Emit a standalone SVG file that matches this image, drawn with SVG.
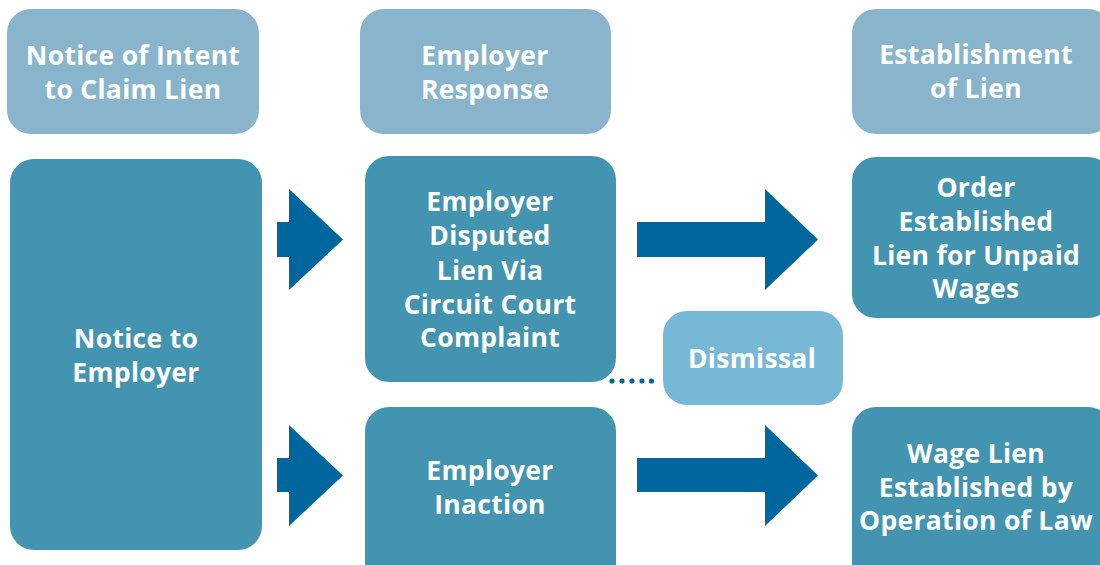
<svg xmlns="http://www.w3.org/2000/svg" width="1100" height="565" viewBox="0 0 1100 565">
<style>
.hdr{fill:#88b5cc}
.main{fill:#4394b1}
.dis{fill:#78b8d7}
.arr{fill:#00679e}
text{font-family:"Open Sans","Noto Sans","DejaVu Sans",sans-serif;font-weight:700;font-size:26.5px;letter-spacing:0.3px;fill:#ffffff;text-anchor:middle}
</style>
<rect width="1100" height="565" fill="#ffffff"/>
<g id="connectors">
<polygon class="arr" points="277,222 289,222 289,189 343,239.5 289,290 289,257 277,257"/>
<polygon class="arr" points="277,458 289,458 289,425 343,475.5 289,526 289,492 277,492"/>
<polygon class="arr" points="637,222 765,222 765,189 818,239.5 765,290 765,257 637,257"/>
<polygon class="arr" points="637,458 765,458 765,425 818,475.5 765,526 765,492 637,492"/>
<g class="arr">
<circle cx="612" cy="381" r="2.6"/>
<circle cx="622" cy="381" r="2.6"/>
<circle cx="632" cy="381" r="2.6"/>
<circle cx="642" cy="381" r="2.6"/>
<circle cx="651.5" cy="381" r="2.6"/>
</g>
</g>
<g id="hdr1">
<rect class="hdr" x="7" y="9" width="252" height="125" rx="24"/>
<text x="133" y="65">Notice of Intent</text>
<text x="133" y="99">to Claim Lien</text>
</g>
<g id="hdr2">
<rect class="hdr" x="360" y="9" width="251" height="125" rx="24"/>
<text x="485" y="65">Employer</text>
<text x="485" y="99">Response</text>
</g>
<g id="hdr3">
<rect class="hdr" x="852" y="9" width="260" height="125" rx="24"/>
<text x="976" y="64">Establishment</text>
<text x="976" y="98">of Lien</text>
</g>
<g id="notice">
<rect class="main" x="10" y="159" width="252" height="391" rx="24"/>
<text x="136" y="348">Notice to</text>
<text x="136" y="382">Employer</text>
</g>
<g id="disputed">
<rect class="main" x="365" y="156" width="251" height="226" rx="24"/>
<text x="490" y="211">Employer</text>
<text x="490" y="245">Disputed</text>
<text x="490" y="280">Lien Via</text>
<text x="490" y="314">Circuit Court</text>
<text x="490" y="347">Complaint</text>
</g>
<g id="dismissal">
<rect class="dis" x="663" y="311" width="180" height="94" rx="24"/>
<text x="752" y="368">Dismissal</text>
</g>
<g id="order">
<rect class="main" x="852" y="157" width="260" height="161" rx="24"/>
<text x="976" y="197">Order</text>
<text x="976" y="231">Established</text>
<text x="976" y="265">Lien for Unpaid</text>
<text x="976" y="298">Wages</text>
</g>
<g id="inaction">
<rect class="main" x="365" y="407" width="251" height="180" rx="24"/>
<text x="490" y="480">Employer</text>
<text x="490" y="514">Inaction</text>
</g>
<g id="wagelien">
<rect class="main" x="852" y="407" width="260" height="180" rx="24"/>
<text x="976" y="463">Wage Lien</text>
<text x="976" y="497">Established by</text>
<text x="976" y="530">Operation of Law</text>
</g>
</svg>
